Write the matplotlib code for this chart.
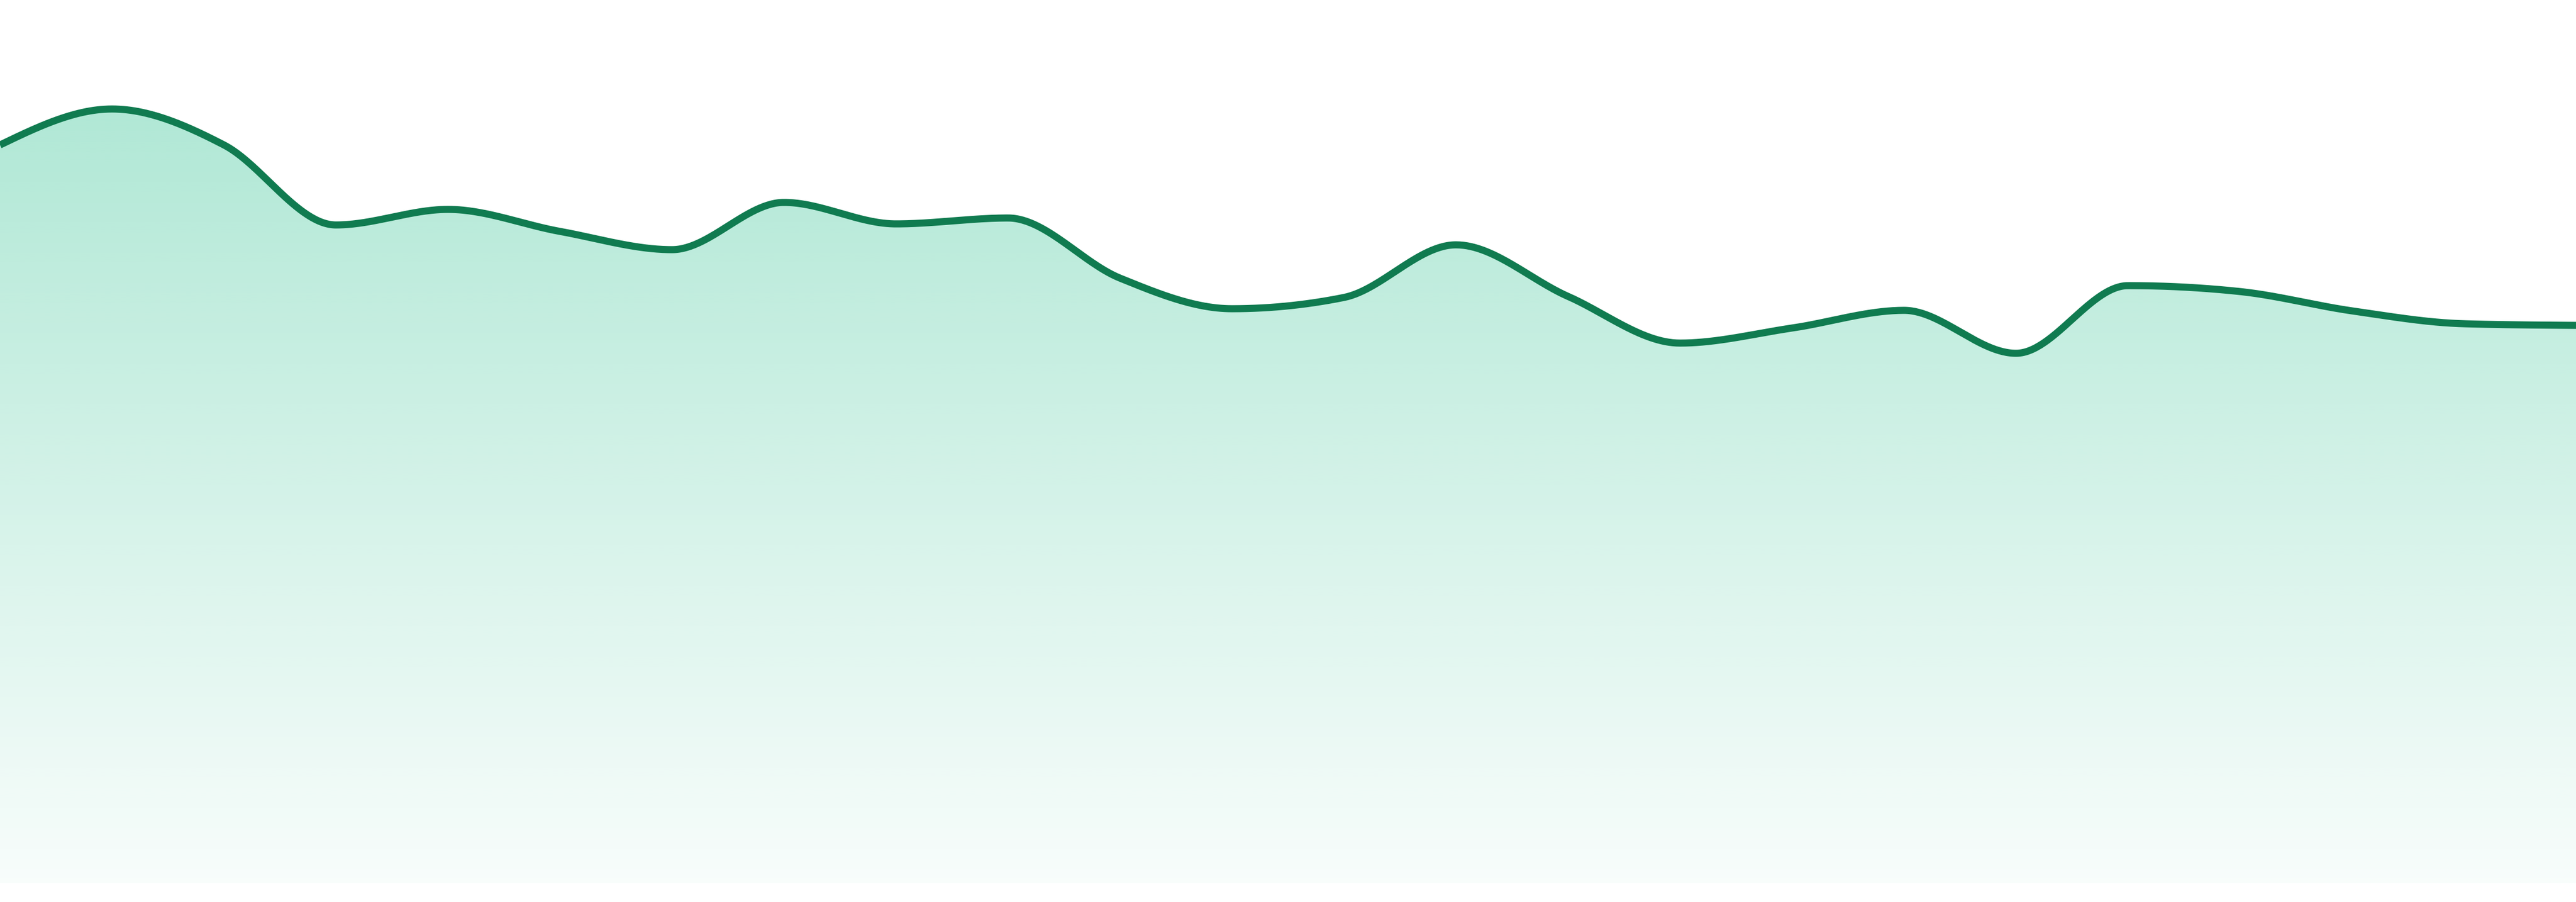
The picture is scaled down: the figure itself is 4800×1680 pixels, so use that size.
import numpy as np
import matplotlib
matplotlib.use("Agg")
import matplotlib.pyplot as plt
from matplotlib.colors import to_rgb

# ---- data ----
points = list(range(24))
values = [141.0, 147.7, 141.0, 126.1, 129.0, 124.9, 121.5, 130.3,
          126.3, 127.4, 116.2, 110.5, 112.6, 122.4, 112.8, 104.1,
          106.9, 110.2, 102.2, 114.8, 113.7, 110.1, 107.7, 107.4]

line_color = "#107b50"
fill_color = "#10b981"


def monotone_x(x, y, per=60):
    """d3-style monotone cubic interpolation (curveMonotoneX)."""
    x = np.asarray(x, float)
    y = np.asarray(y, float)
    n = len(x)
    h = np.diff(x)
    s = np.diff(y) / h
    t = np.zeros(n)
    for i in range(1, n - 1):
        h0, h1 = h[i - 1], h[i]
        s0, s1 = s[i - 1], s[i]
        p = (s0 * h1 + s1 * h0) / (h0 + h1)
        t[i] = (np.sign(s0) + np.sign(s1)) * min(abs(s0), abs(s1), 0.5 * abs(p))
    t[0] = (3 * s[0] - t[1]) / 2
    t[-1] = (3 * s[-1] - t[-2]) / 2
    xs, ys = [], []
    for i in range(n - 1):
        u = np.linspace(0, 1, per, endpoint=(i == n - 2))
        hh = h[i]
        h00 = 2 * u**3 - 3 * u**2 + 1
        h10 = u**3 - 2 * u**2 + u
        h01 = -2 * u**3 + 3 * u**2
        h11 = u**3 - u**2
        xs.append(x[i] + u * hh)
        ys.append(h00 * y[i] + h10 * hh * t[i] + h01 * y[i + 1] + h11 * hh * t[i + 1])
    return np.concatenate(xs), np.concatenate(ys)


fig = plt.figure(figsize=(48, 16.8), dpi=100)
ax = fig.add_axes([0, 0, 1, 1])
ax.set_xlim(points[0], points[-1])
ymin, ymax = 0, 168
baseline = 3.5
ax.set_ylim(ymin, ymax)
ax.axis("off")

xs, ys = monotone_x(points, values)

# gradient fill clipped to the area under the curve
poly = ax.fill_between(xs, ys, baseline, facecolor="none", edgecolor="none")
rgb = to_rgb(fill_color)
top_val = max(values)
nrows = 400
yy = np.linspace(ymax, ymin, nrows)
alpha = np.clip(0.03 + 0.30 * (yy - baseline) / (top_val - baseline), 0.03, 0.33)
img = np.zeros((nrows, 2, 4))
img[..., 0], img[..., 1], img[..., 2] = rgb
img[..., 3] = alpha[:, None]
im = ax.imshow(img, extent=[points[0], points[-1], ymin, ymax], aspect="auto",
               interpolation="bilinear", zorder=1)
im.set_clip_path(poly.get_paths()[0], transform=ax.transData)

ax.plot(xs, ys, color=line_color, linewidth=9.5, solid_capstyle="butt", zorder=3)

fig.savefig("out.png", dpi=100, facecolor="white")
